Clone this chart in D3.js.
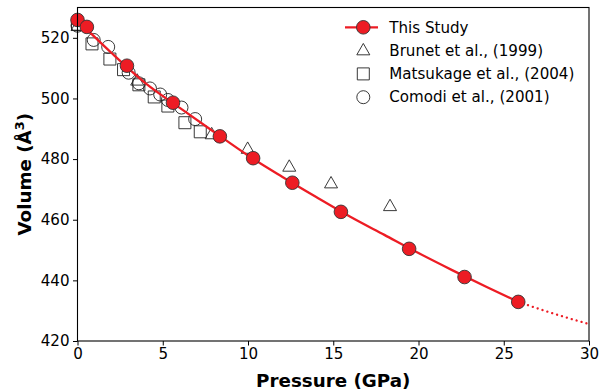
<!DOCTYPE html>
<html>
<head>
<meta charset="utf-8">
<script src="https://cdn.jsdelivr.net/npm/d3@7/dist/d3.min.js"></script>
<style>
html,body{margin:0;padding:0;background:#fff;}
svg{display:block;font-family:"DejaVu Sans",sans-serif;}
</style>
</head>
<body>
<svg id="chart" width="599" height="391"></svg>
<script>
// ---- data ----
const studyP = [0, 0.55, 2.9, 5.6, 8.35, 10.3, 12.6, 15.45, 19.45, 22.7, 25.85];
const studyV = [525.9, 523.6, 510.8, 498.6, 487.5, 480.3, 472.2, 462.6, 450.4, 441.1, 432.9];

const fitP = [0, 2, 4, 6, 8, 10, 12, 14, 16, 18, 20, 22, 24, 25.85];
const fitV = [525.8, 515.0, 505.0, 496.9, 489.0, 481.2, 474.2, 467.5, 461.0, 455.0, 449.0, 443.3, 437.8, 432.9];
const extP = [25.85, 28, 30];
const extV = [432.9, 428.9, 425.6];

const brunetP = [0, 3.5, 7.87, 9.98, 12.42, 14.87, 18.33];
const brunetV = [523.8, 505.8, 488.1, 483.3, 477.4, 471.9, 464.4];

const matsP = [0, 0.85, 1.9, 2.7, 3.6, 4.5, 5.3, 6.3, 7.2];
const matsV = [524.5, 518.0, 513.0, 509.5, 504.5, 500.5, 497.5, 492.0, 489.0];

const comodiP = [0, 0.95, 1.8, 3.0, 3.6, 4.25, 4.85, 5.3, 6.1, 6.9];
const comodiV = [524.0, 519.3, 517.0, 508.5, 505.0, 503.3, 501.3, 499.5, 497.0, 493.2];

const xTicks = [0, 5, 10, 15, 20, 25, 30];
const yTicks = [420, 440, 460, 480, 500, 520];
const legendLabels = ["This Study", "Brunet et al., (1999)", "Matsukage et al., (2004)", "Comodi et al., (2001)"];

// ---- layout ----
const svg = d3.select("#chart");
const L = 77.5, R = 589, T = 7.5, B = 341;
const x = d3.scaleLinear().domain([0, 30]).range([L, R]);
const y = d3.scaleLinear().domain([420, 530]).range([B, T]);
const RED = "#ed1c24";
const fs = 15.1;

const zip = (a, b) => a.map((v, i) => [v, b[i]]);

// axes
const xAxis = svg.append("g").attr("transform", `translate(0,${B})`)
  .call(d3.axisBottom(x).tickValues(xTicks).tickSize(4.5).tickPadding(3).tickFormat(d3.format("d")));
const yAxis = svg.append("g").attr("transform", `translate(${L},0)`)
  .call(d3.axisLeft(y).tickValues(yTicks).tickSize(4.5).tickPadding(3.5).tickFormat(d3.format("d")));
[xAxis, yAxis].forEach(g => {
  g.select(".domain").remove();
  g.selectAll("line").attr("stroke", "#000").attr("stroke-width", 1);
  g.selectAll("text").attr("font-size", fs).attr("fill", "#000").attr("font-family", "DejaVu Sans");
});

const plot = svg.append("g");

const mk = {
  circle: r => `M${r},0A${r},${r} 0 1,1 ${-r},0A${r},${r} 0 1,1 ${r},0Z`,
  square: s => `M${-s},${-s}H${s}V${s}H${-s}Z`,
  triangle: s => `M0,${-s*1.1}L${s},${s*0.65}L${-s},${s*0.65}Z`
};

function openMarkers(P, V, path) {
  plot.append("g").selectAll("path").data(zip(P, V)).join("path")
    .attr("transform", d => `translate(${x(d[0])},${y(d[1])})`)
    .attr("d", path)
    .attr("fill", "none").attr("stroke", "#222").attr("stroke-width", 0.9);
}
openMarkers(matsP, matsV, mk.square(6));
openMarkers(comodiP, comodiV, mk.circle(6.5));
openMarkers(brunetP, brunetV, mk.triangle(6.5));

const line = d3.line().x(d => x(d[0])).y(d => y(d[1])).curve(d3.curveMonotoneX);
plot.append("path").datum(zip(fitP, fitV)).attr("d", line)
  .attr("fill", "none").attr("stroke", RED).attr("stroke-width", 2.3);
plot.append("path").datum(zip(extP, extV)).attr("d", line)
  .attr("fill", "none").attr("stroke", RED).attr("stroke-width", 2.3)
  .attr("stroke-dasharray", "0.1,5").attr("stroke-linecap", "round");

plot.append("g").selectAll("circle").data(zip(studyP, studyV)).join("circle")
  .attr("cx", d => x(d[0])).attr("cy", d => y(d[1])).attr("r", 6.8)
  .attr("fill", RED).attr("stroke", "#333").attr("stroke-width", 0.9);

// frame
svg.append("rect").attr("x", L).attr("y", T).attr("width", R - L).attr("height", B - T)
  .attr("fill", "none").attr("stroke", "#000").attr("stroke-width", 1.1);

// axis titles
svg.append("text").attr("x", (L + R) / 2).attr("y", 387)
  .attr("text-anchor", "middle").attr("font-weight", "bold").attr("font-size", 18.3)
  .text("Pressure (GPa)");
const yl = svg.append("text").attr("transform", `translate(31,${(T + B) / 2}) rotate(-90)`)
  .attr("text-anchor", "middle").attr("font-weight", "bold").attr("font-size", 18.3);
yl.append("tspan").text("Volume (Å");
yl.append("tspan").attr("dy", -7).attr("font-size", 12.8).text("3");
yl.append("tspan").attr("dy", 7).text(")");

// legend
const lg = svg.append("g");
const lx = 363.3, ly0 = 27.3, ldy = 23.3, tx = 389.3;
legendLabels.forEach((lab, i) => {
  const yy = ly0 + i * ldy;
  lg.append("text").attr("x", tx).attr("y", yy).attr("dy", "0.35em")
    .attr("font-size", fs).text(lab);
});
lg.append("line").attr("x1", 345).attr("x2", 378).attr("y1", ly0).attr("y2", ly0)
  .attr("stroke", RED).attr("stroke-width", 2.3);
lg.append("circle").attr("cx", lx).attr("cy", ly0).attr("r", 6.8)
  .attr("fill", RED).attr("stroke", "#333").attr("stroke-width", 0.9);
lg.append("path").attr("transform", `translate(${lx},${ly0 + ldy})`).attr("d", mk.triangle(6.5))
  .attr("fill", "none").attr("stroke", "#222").attr("stroke-width", 0.9);
lg.append("path").attr("transform", `translate(${lx},${ly0 + 2 * ldy})`).attr("d", mk.square(6))
  .attr("fill", "none").attr("stroke", "#222").attr("stroke-width", 0.9);
lg.append("path").attr("transform", `translate(${lx},${ly0 + 3 * ldy})`).attr("d", mk.circle(6.5))
  .attr("fill", "none").attr("stroke", "#222").attr("stroke-width", 0.9);
</script>
</body>
</html>
